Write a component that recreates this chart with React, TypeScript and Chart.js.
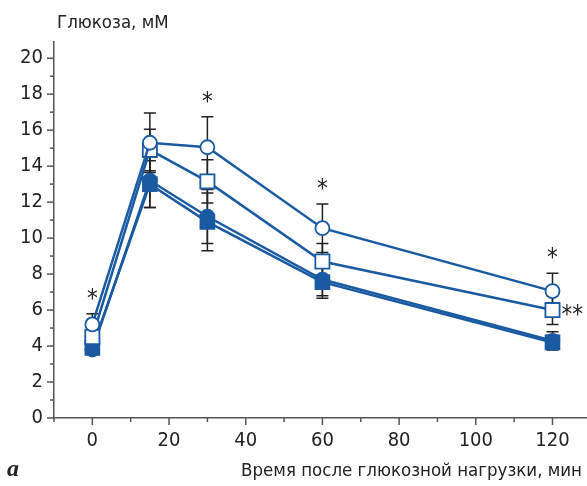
import React, { useEffect, useRef } from "react";
import { Chart, registerables } from "chart.js";
Chart.register(...registerables);

const times = [0, 15, 30, 60, 120];
const openCircle = [5.2, 15.3, 15.05, 10.55, 7.05];
const openCircleSD = [0.6, 1.65, 1.7, 1.35, 1.0];
const openSquare = [4.5, 14.9, 13.15, 8.7, 6.0];
const openSquareSD = [0.3, 1.15, 1.2, 1.0, 0.8];
const filledCircle = [3.8, 13.2, 11.2, 7.7, 4.3];
const filledCircleSD = [0.2, 1.5, 1.5, 0.9, 0.5];
const filledSquare = [3.9, 13.0, 10.9, 7.55, 4.2];
const filledSquareSD = [0.2, 1.3, 1.6, 0.9, 0.4];
const starTimes = [0, 30, 60, 120];
const doubleStarTime = 120;
const xTickValues = [-10, 0, 10, 20, 30, 40, 50, 60, 70, 80, 90, 100, 110, 120];
const yTickValues = [0, 1, 2, 3, 4, 5, 6, 7, 8, 9, 10, 11, 12, 13, 14, 15, 16, 17, 18, 19, 20];
const yTitle = "Глюкоза, мМ";
const xTitle = "Время после глюкозной нагрузки, мин";
const panelLabel = "a";

const BLUE = "#1a5aa3";
const FONT = "'DejaVu Sans Condensed', 'DejaVu Sans', sans-serif";

const seriesSD = [openCircleSD, openSquareSD, filledCircleSD, filledSquareSD];

const overlay = {
  id: "overlay",
  beforeDatasetsDraw(chart: any) {
    const ctx = chart.ctx;
    const xs = chart.scales.x;
    const ys = chart.scales.y;
    ctx.save();
    ctx.strokeStyle = "#222";
    ctx.lineWidth = 1.5;
    chart.data.datasets.forEach((ds: any, i: number) => {
      const sd = seriesSD[i];
      ds.data.forEach((p: any, j: number) => {
        const px = xs.getPixelForValue(p.x);
        const top = ys.getPixelForValue(p.y + sd[j]);
        const bot = ys.getPixelForValue(p.y - sd[j]);
        ctx.beginPath();
        ctx.moveTo(px, top);
        ctx.lineTo(px, bot);
        ctx.moveTo(px - 6, top);
        ctx.lineTo(px + 6, top);
        ctx.moveTo(px - 6, bot);
        ctx.lineTo(px + 6, bot);
        ctx.stroke();
      });
    });
    ctx.restore();
  },
  afterDraw(chart: any) {
    const ctx = chart.ctx;
    const xs = chart.scales.x;
    const ys = chart.scales.y;
    const area = chart.chartArea;
    ctx.save();
    ctx.strokeStyle = "#555";
    ctx.lineWidth = 1.5;
    yTickValues.forEach((v) => {
      const py = ys.getPixelForValue(v);
      const len = v % 2 === 0 ? 7 : 4;
      ctx.beginPath();
      ctx.moveTo(area.left - len, py);
      ctx.lineTo(area.left, py);
      ctx.stroke();
    });
    xTickValues.forEach((v) => {
      const px = xs.getPixelForValue(v);
      const len = v % 20 === 0 ? 7 : 4;
      ctx.beginPath();
      ctx.moveTo(px, area.bottom);
      ctx.lineTo(px, area.bottom + len);
      ctx.stroke();
    });

    // asterisks above open-circle error bars
    ctx.fillStyle = "#222";
    ctx.font = `24px ${FONT}`;
    ctx.textAlign = "center";
    ctx.textBaseline = "middle";
    starTimes.forEach((t) => {
      const j = times.indexOf(t);
      const px = xs.getPixelForValue(t);
      const py = ys.getPixelForValue(openCircle[j] + openCircleSD[j]) - 14;
      ctx.fillText("*", px, py);
    });
    const jd = times.indexOf(doubleStarTime);
    ctx.textAlign = "left";
    ctx.fillText("**", xs.getPixelForValue(doubleStarTime) + 9, ys.getPixelForValue(openSquare[jd]) + 6);

    // titles
    ctx.textBaseline = "alphabetic";
    ctx.font = `18.5px ${FONT}`;
    ctx.fillStyle = "#222";
    ctx.textAlign = "left";
    ctx.fillText(yTitle, 57, 28);
    ctx.textAlign = "right";
    ctx.fillText(xTitle, 582, 476);
    ctx.textAlign = "left";
    ctx.font = "italic bold 24px 'Liberation Serif', 'DejaVu Serif', serif";
    ctx.fillText(panelLabel, 7, 476);
    ctx.restore();
  },
};

export default function App() {
  const ref = useRef<HTMLCanvasElement | null>(null);
  useEffect(() => {
    document.body.style.margin = "0";
    const mk = (vals: number[]) => vals.map((v, i) => ({ x: times[i], y: v }));
    const chart = new Chart(ref.current!, {
      type: "line",
      data: {
        datasets: [
          {
            data: mk(openCircle),
            borderColor: BLUE,
            backgroundColor: "#fff",
            pointBorderColor: BLUE,
            pointBackgroundColor: "#fff",
            pointStyle: "circle",
            pointRadius: 7,
            pointBorderWidth: 1.8,
            borderWidth: 2.5,
          },
          {
            data: mk(openSquare),
            borderColor: BLUE,
            backgroundColor: "#fff",
            pointBorderColor: BLUE,
            pointBackgroundColor: "#fff",
            pointStyle: "rect",
            pointRadius: 10,
            pointBorderWidth: 1.8,
            borderWidth: 2.5,
          },
          {
            data: mk(filledCircle),
            borderColor: BLUE,
            backgroundColor: BLUE,
            pointBorderColor: BLUE,
            pointBackgroundColor: BLUE,
            pointStyle: "circle",
            pointRadius: 7,
            pointBorderWidth: 1.5,
            borderWidth: 2.5,
          },
          {
            data: mk(filledSquare),
            borderColor: BLUE,
            backgroundColor: BLUE,
            pointBorderColor: BLUE,
            pointBackgroundColor: BLUE,
            pointStyle: "rect",
            pointRadius: 10,
            pointBorderWidth: 1.5,
            borderWidth: 2.5,
          },
        ],
      },
      options: {
        responsive: true,
        maintainAspectRatio: false,
        animation: false,
        layout: { autoPadding: false, padding: { top: 42, right: 0, left: 0, bottom: 0 } },
        plugins: { legend: { display: false }, tooltip: { enabled: false } },
        scales: {
          x: {
            type: "linear",
            min: -10,
            max: 129,
            afterBuildTicks: (s: any) => {
              s.ticks = xTickValues.filter((v) => v >= 0 && v % 20 === 0).map((v) => ({ value: v }));
            },
            afterFit: (s: any) => {
              s.height = 68;
              s.paddingLeft = 0;
              s.paddingRight = 0;
            },
            grid: { drawOnChartArea: false, drawTicks: false },
            border: { display: true, color: "#555", width: 1.5 },
            ticks: {
              padding: 11,
              color: "#222",
              font: { family: FONT, size: 20 },
            },
          },
          y: {
            type: "linear",
            min: 0,
            max: 20.9,
            afterBuildTicks: (s: any) => {
              s.ticks = yTickValues.filter((v) => v % 2 === 0).map((v) => ({ value: v }));
            },
            afterFit: (s: any) => {
              s.width = 54;
              s.paddingTop = 0;
              s.paddingBottom = 0;
            },
            grid: { drawOnChartArea: false, drawTicks: false },
            border: { display: true, color: "#555", width: 1.5 },
            ticks: {
              padding: 11,
              color: "#222",
              font: { family: FONT, size: 20 },
            },
          },
        },
      },
      plugins: [overlay],
    } as any);
    return () => chart.destroy();
  }, []);
  return (
    <div style={{ position: "relative", width: 587, height: 486 }}>
      <canvas ref={ref} style={{ display: "block" }} />
    </div>
  );
}
